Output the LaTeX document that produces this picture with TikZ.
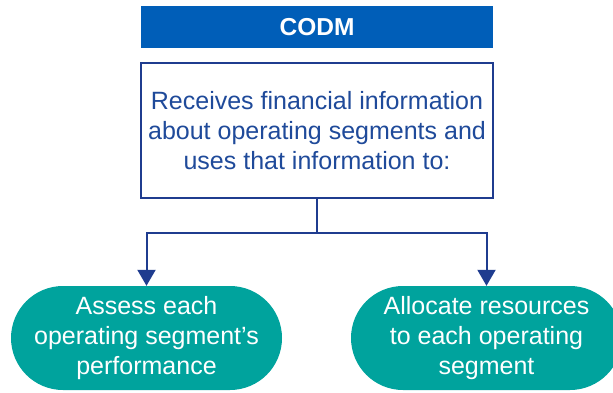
\documentclass[tikz,border=0pt]{standalone}
\usepackage{fontspec}
\setmainfont{Liberation Sans}
\usetikzlibrary{arrows.meta}
\definecolor{codmblue}{HTML}{005EB8}
\definecolor{navy}{HTML}{1F3C8F}
\definecolor{txtblue}{HTML}{1F4A9A}
\definecolor{teal}{HTML}{00A39D}
\tikzset{
  headbox/.style={draw=none, fill=codmblue, text=white, font=\fontsize{24.5}{29}\selectfont\bfseries, minimum width=352pt, minimum height=42pt, inner sep=0pt},
  infobox/.style={draw=navy, line width=2pt, fill=white, text=txtblue, font=\fontsize{25}{30}\selectfont, align=center, minimum width=352pt, minimum height=135pt, inner sep=0pt},
  pill/.style={fill=teal, draw=none, text=white, font=\fontsize{25}{30}\selectfont, align=center, minimum width=271pt, minimum height=104pt, rounded corners=52pt, inner sep=0pt},
  conn/.style={draw=navy, line width=2pt},
  arr/.style={conn, -{Triangle[width=18pt,length=16pt]}}
}
\begin{document}
\begin{tikzpicture}[x=1pt,y=-1pt]
\useasboundingbox (0,0) rectangle (613,392);
\node[headbox] (codm) at (317,27) {CODM};
\node[infobox] (info) at (317,130.5) {Receives financial information\\about operating segments and\\uses that information to:};
\node[pill] (left) at (146.5,338) {Assess each\\operating segment’s\\performance};
\node[pill] (right) at (486.5,338) {Allocate resources\\to each operating\\segment};
\coordinate (split) at (317,233);
\draw[conn] (info.south) -- (split);
\draw[arr] (split) -| (left.north);
\draw[arr] (split) -| (right.north);
\end{tikzpicture}
\end{document}
